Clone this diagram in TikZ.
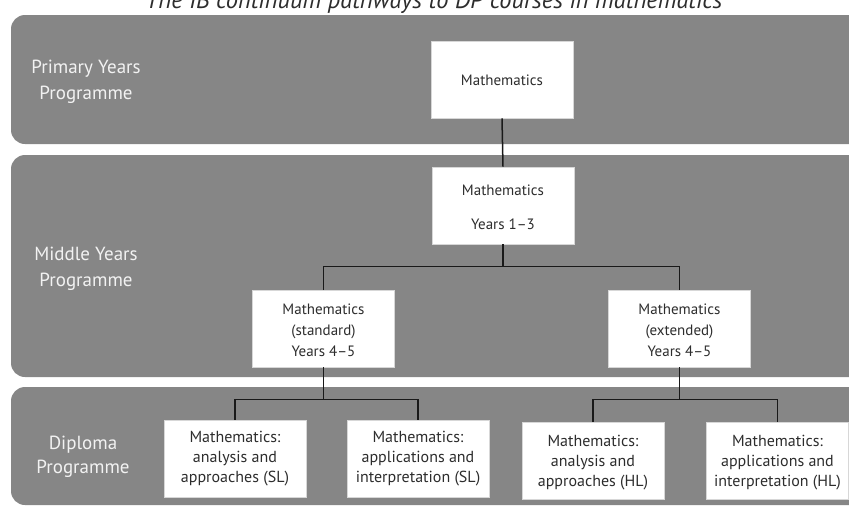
\documentclass[tikz,border=0pt]{standalone}
\usepackage{fontspec}
\setmainfont{PT Sans}
\definecolor{bandgray}{RGB}{134,134,134}
\definecolor{boxedge}{RGB}{215,215,215}
\definecolor{txtgray}{RGB}{45,45,45}
\definecolor{lblwhite}{RGB}{242,242,242}
\definecolor{linecol}{RGB}{25,25,25}
\begin{document}
\begin{tikzpicture}[x=1pt,y=-1pt,
  band/.style={fill=bandgray, rounded corners=14pt},
  box/.style={draw=boxedge, fill=white, line width=0.7pt, minimum width=142pt, minimum height=77pt, inner sep=0pt},
  boxtxt/.style={anchor=north, inner sep=0pt, align=center, text=txtgray, font=\fontsize{15}{20.7}\selectfont},
  dptxt/.style={anchor=north, inner sep=0pt, align=center, text=txtgray, font=\fontsize{16}{20}\selectfont},
  prog/.style={anchor=north, inner sep=0pt, align=center, text=lblwhite, font=\fontsize{19}{26}\selectfont},
  conn/.style={draw=linecol, line width=1.5pt}
]
\useasboundingbox (0,0) rectangle (849,507);
\clip (0,0) rectangle (849,507);

% title
\node[anchor=base, inner sep=0pt, text=txtgray, font=\fontsize{24.5}{28}\selectfont\itshape] (title) at (434,8.5) {The IB continuum pathways to DP courses in mathematics};

% bands
\fill[band] (11,15) rectangle (864,144);
\fill[band] (11,155) rectangle (864,377);
\fill[band] (11,387) rectangle (864,505);

% programme labels
\node[prog] (pyp) at (86,54.8) {\strut Primary Years\\Programme};
\node[prog] (myp) at (86,241.8) {\strut Middle Years\\Programme};
\node[prog] (dp) at (83,430.8) {\strut Diploma\\[-2pt]Programme};

% boxes
\node[box] (p1) at (502,79.5) {};
\node[box] (m1) at (503,205.5) {};
\node[box] (ms) at (323.5,328.5) {};
\node[box] (me) at (679.5,328.5) {};
\node[box] (d1) at (235,458.5) {};
\node[box] (d2) at (418,458.5) {};
\node[box] (d3) at (593,460.5) {};
\node[box] (d4) at (777.5,460.5) {};

% box texts
\node[boxtxt] (p1t) at (502,70.5) {\strut Mathematics};
\node[boxtxt] (m1t) at (503,180.5) {\strut Mathematics\\[13.3pt]Years 1–3};
\node[boxtxt] (mst) at (323.5,300) {\strut Mathematics\\(standard)\\Years 4–5};
\node[boxtxt] (met) at (679.5,300) {\strut Mathematics\\(extended)\\Years 4–5};
\node[dptxt] (d1t) at (235,428) {\strut Mathematics:\\analysis and\\approaches (SL)};
\node[dptxt] (d2t) at (418,428) {\strut Mathematics:\\applications and\\interpretation (SL)};
\node[dptxt] (d3t) at (593,432) {\strut Mathematics:\\analysis and\\approaches (HL)};
\node[dptxt] (d4t) at (777.5,432) {\strut Mathematics:\\applications and\\interpretation (HL)};

% connectors
\draw[conn] (p1.south) -- (m1.north);
\draw[conn] (m1.south) -- ++(0,22) coordinate (jm);
\draw[conn] (ms.north) |- (jm) -| (me.north);
\draw[conn] (ms.south) -- ++(0,32) coordinate (jl);
\draw[conn] (d1.north) |- (jl) -| (d2.north);
\draw[conn] (me.south) -- ++(0,32) coordinate (jr);
\draw[conn] (d3.north) |- (jr) -| (d4.north);
\end{tikzpicture}
\end{document}
